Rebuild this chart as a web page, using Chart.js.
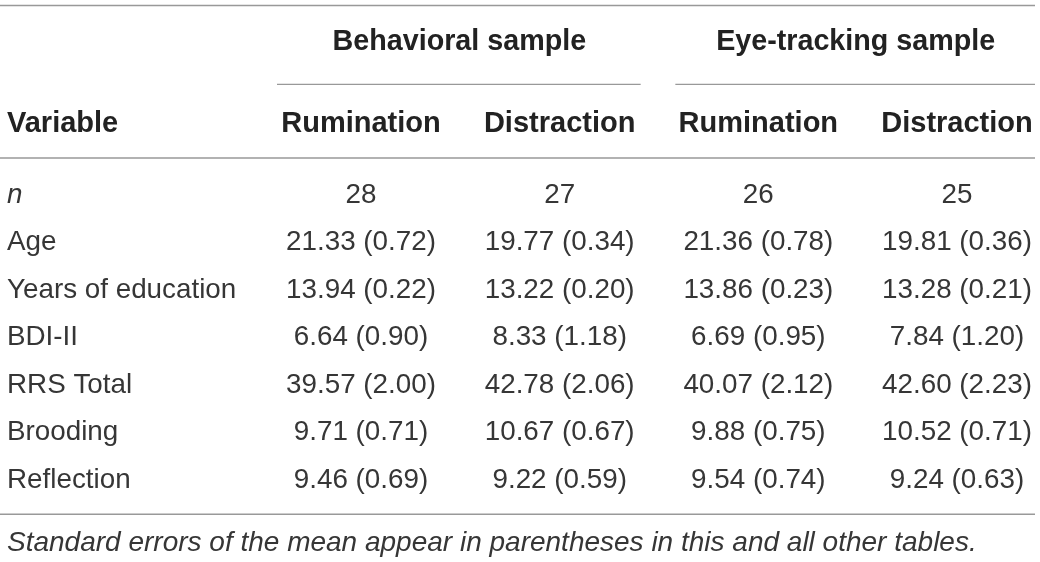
<!DOCTYPE html>
<html><head><meta charset="utf-8">
<script src="https://cdn.jsdelivr.net/npm/chart.js@4"></script>
<style>html,body{margin:0;padding:0;background:#fff}#wrap{width:1040px;height:562px;position:relative}</style>
</head><body><div id="wrap"><canvas id="c"></canvas></div>
<script>
// ---- data ----
const groupLabels = ['Behavioral sample', 'Eye-tracking sample'];
const columnLabels = ['Rumination', 'Distraction', 'Rumination', 'Distraction'];
const firstColumnLabel = 'Variable';
const rowLabels = ['n', 'Age', 'Years of education', 'BDI-II', 'RRS Total', 'Brooding', 'Reflection'];
const behavioralRumination = ['28', '21.33 (0.72)', '13.94 (0.22)', '6.64 (0.90)', '39.57 (2.00)', '9.71 (0.71)', '9.46 (0.69)'];
const behavioralDistraction = ['27', '19.77 (0.34)', '13.22 (0.20)', '8.33 (1.18)', '42.78 (2.06)', '10.67 (0.67)', '9.22 (0.59)'];
const eyeRumination = ['26', '21.36 (0.78)', '13.86 (0.23)', '6.69 (0.95)', '40.07 (2.12)', '9.88 (0.75)', '9.54 (0.74)'];
const eyeDistraction = ['25', '19.81 (0.36)', '13.28 (0.21)', '7.84 (1.20)', '42.60 (2.23)', '10.52 (0.71)', '9.24 (0.63)'];
const footnote = 'Standard errors of the mean appear in parentheses in this and all other tables.';

const columns = [behavioralRumination, behavioralDistraction, eyeRumination, eyeDistraction];

const FONT = '"Liberation Sans", Arial, Helvetica, sans-serif';
const HEAD = '#222222';
const TEXT = '#363636';
const RULE = '#999999';

const tablePlugin = {
  id: 'table',
  afterDraw(chart) {
    const ctx = chart.ctx;
    const xs = chart.scales.x, ys = chart.scales.y;
    const colX = i => xs.getPixelForValue(i);
    const rowY = i => ys.getPixelForValue(i);
    const step = rowY(1) - rowY(0);
    const leftX = 7;
    const rightX = 1035;
    ctx.save();
    ctx.textBaseline = 'middle';
    const rule = (x1, x2, y) => {
      ctx.strokeStyle = RULE; ctx.lineWidth = 1.4;
      ctx.beginPath(); ctx.moveTo(x1, y); ctx.lineTo(x2, y); ctx.stroke();
    };
    const headerY = rowY(0) - step * 1.49;
    const groupY = rowY(0) - step * 3.21;
    rule(0, rightX, groupY - step * 0.78);
    const grpLine = groupY + step * 0.88;
    rule(colX(0) - 84, colX(1) + 81, grpLine);
    rule(colX(2) - 83, rightX, grpLine);
    rule(0, rightX, rowY(0) - step * 0.78);
    rule(0, rightX, rowY(rowLabels.length - 1) + step * 0.72);
    // group headers
    ctx.fillStyle = HEAD;
    ctx.font = 'bold 28.7px ' + FONT;
    ctx.textAlign = 'center';
    ctx.fillText(groupLabels[0], (colX(0) + colX(1)) / 2 - 1, groupY);
    ctx.fillText(groupLabels[1], (colX(2) + colX(3)) / 2 - 2, groupY);
    // column headers
    ctx.font = 'bold 29px ' + FONT;
    ctx.textAlign = 'left';
    ctx.fillText(firstColumnLabel, leftX, headerY);
    ctx.textAlign = 'center';
    columnLabels.forEach((l, i) => ctx.fillText(l, colX(i), headerY));
    // rows
    ctx.fillStyle = TEXT;
    rowLabels.forEach((l, r) => {
      ctx.textAlign = 'left';
      ctx.font = (r === 0 ? 'italic ' : '') + '27.8px ' + FONT;
      ctx.fillText(l, leftX, rowY(r));
      ctx.font = '27.8px ' + FONT;
      ctx.textAlign = 'center';
      columns.forEach((col, c) => ctx.fillText(col[r], colX(c), rowY(r)));
    });
    // footnote
    ctx.font = 'italic 28px ' + FONT;
    ctx.textAlign = 'left';
    ctx.fillText(footnote, leftX, rowY(rowLabels.length - 1) + step * 1.33);
    ctx.restore();
  }
};

new Chart(document.getElementById('c'), {
  type: 'scatter',
  data: { datasets: [{ data: [], pointRadius: 0 }] },
  options: {
    responsive: true, maintainAspectRatio: false, animation: false,
    layout: { padding: { left: 361, right: 83, top: 195, bottom: 82 } },
    plugins: { legend: { display: false }, tooltip: { enabled: false } },
    scales: {
      x: { type: 'linear', min: 0, max: columns.length - 1, display: false },
      y: { type: 'linear', min: 0, max: rowLabels.length - 1, reverse: true, display: false }
    }
  },
  plugins: [tablePlugin]
});
</script></body></html>
